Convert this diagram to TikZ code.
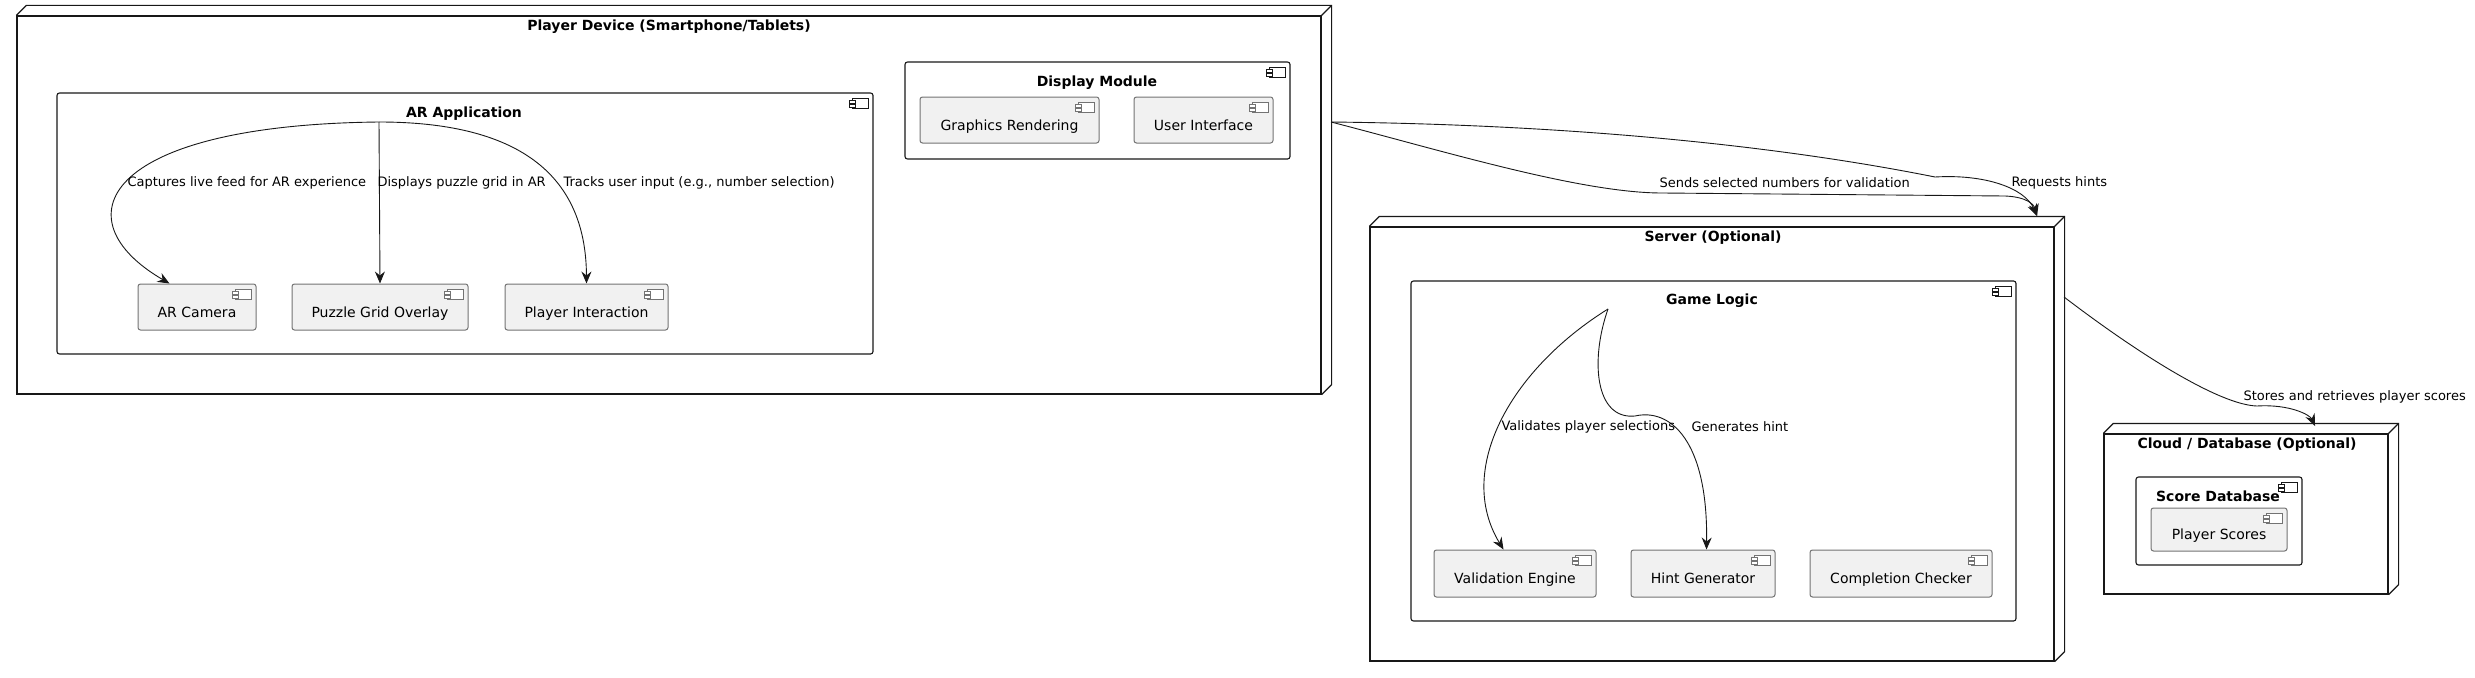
\documentclass[tikz,border=0pt]{standalone}
\usepackage{fontspec}
\setmainfont{DejaVu Sans}
\usetikzlibrary{arrows.meta,fit}
\definecolor{compfill}{HTML}{F1F1F1}
\definecolor{umlline}{HTML}{181818}

% small component icon in the top right corner of a box
\newcommand{\cicon}[2]{%
  \draw[#2,line width=0.8pt,fill=white] ([xshift=-21pt,yshift=-6pt]#1.north east) rectangle ++(16pt,-10pt);
  \draw[#2,line width=0.8pt,fill=white] ([xshift=-24pt,yshift=-8pt]#1.north east) rectangle ++(6pt,-2.5pt);
  \draw[#2,line width=0.8pt,fill=white] ([xshift=-24pt,yshift=-12pt]#1.north east) rectangle ++(6pt,-2.5pt);}
% top and side faces of a deployment node
\newcommand{\nodedepth}[1]{%
  \draw[umlline,line width=1.2pt] (#1.north west) -- ++(10pt,10pt)
    -- ([shift={(10pt,10pt)}]#1.north east) -- ([shift={(10pt,10pt)}]#1.south east)
    -- (#1.south east);
  \draw[umlline,line width=1.2pt] (#1.north east) -- ++(10pt,10pt);}

\begin{document}
\begin{tikzpicture}[x=1pt,y=-1pt,line width=1pt,
  lbl/.style={font=\fontsize{13}{15}\selectfont,anchor=west,inner sep=0pt},
  ttl/.style={font=\fontsize{14}{16}\selectfont\bfseries,inner sep=0pt},
  dev/.style={draw=umlline,line width=1.2pt,inner sep=0pt},
  cont/.style={draw=umlline,line width=1.1pt,rounded corners=2.5pt,inner sep=0pt},
  comp/.style={draw=black!55,fill=compfill,rounded corners=2.5pt,inner sep=0pt,
               font=\fontsize{14}{16}\selectfont,text height=20pt,text depth=0pt},
  flow/.style={draw=umlline,line width=0.9pt,-{Stealth[length=12pt,width=10pt,inset=4pt]}}]
  \useasboundingbox (0,0) rectangle (2475,677);

  % player device
  \node[dev,fit={(17,16) (1321,394)}] (pd) {};
  \nodedepth{pd}
  \node[ttl] (pdt) at (669,27) {Player Device (Smartphone/Tablets)};
  \node[cont,fit={(57,93) (873,354)}] (arapp) {};
  \cicon{arapp}{umlline}
  \node[ttl] (arappt) at (464,114) {AR Application};
  \node[comp,minimum width=118pt,minimum height=46pt] (arcam) at (197,307) {AR Camera};
  \cicon{arcam}{black!55}
  \node[comp,minimum width=176pt,minimum height=46pt] (grid) at (380,307) {Puzzle Grid Overlay};
  \cicon{grid}{black!55}
  \node[comp,minimum width=163pt,minimum height=46pt] (pinter) at (586.5,307) {Player Interaction};
  \cicon{pinter}{black!55}
  \node[cont,fit={(905,62) (1290,159)}] (disp) {};
  \cicon{disp}{umlline}
  \node[ttl] (dispt) at (1097,83) {Display Module};
  \node[comp,minimum width=179pt,minimum height=46pt] (gfx) at (1009.5,120) {Graphics Rendering};
  \cicon{gfx}{black!55}
  \node[comp,minimum width=139pt,minimum height=46pt] (ui) at (1203.5,120) {User Interface};
  \cicon{ui}{black!55}

  % server
  \node[dev,fit={(1370,227) (2054,661)}] (srv) {};
  \nodedepth{srv}
  \node[ttl] (srvt) at (1713,238) {Server (Optional)};
  \node[cont,fit={(1411,281) (2016,621)}] (logic) {};
  \cicon{logic}{umlline}
  \node[ttl] (logict) at (1712,301) {Game Logic};
  \node[comp,minimum width=162pt,minimum height=47pt] (valid) at (1515,573.5) {Validation Engine};
  \cicon{valid}{black!55}
  \node[comp,minimum width=144pt,minimum height=47pt] (hint) at (1703,573.5) {Hint Generator};
  \cicon{hint}{black!55}
  \node[comp,minimum width=182pt,minimum height=47pt] (check) at (1901,573.5) {Completion Checker};
  \cicon{check}{black!55}

  % cloud
  \node[dev,fit={(2104,434) (2388,594)}] (cloud) {};
  \nodedepth{cloud}
  \node[ttl] (cloudt) at (2247,445) {Cloud / Database (Optional)};
  \node[cont,fit={(2136,477) (2302,565)}] (scoredb) {};
  \cicon{scoredb}{umlline}
  \node[ttl] (scoredbt) at (2218,496) {Score Database};
  \node[comp,minimum width=136pt,minimum height=43pt] (scores) at (2219,529.5) {Player Scores};
  \cicon{scores}{black!55}

  \coordinate (arsrc) at (379,122);
  \coordinate (logicsrc) at (1608,309);
  \coordinate (pdout) at (1331,122);
  \coordinate (srvin) at (2037,216);
  \coordinate (srvout) at (2064,297);
  \coordinate (cloudin) at (2315,426);

  \draw[flow] (arsrc) .. controls (100,125) and (60,220) .. ([xshift=32pt]arcam.north west);
  \draw[flow] (arsrc) -- (grid.north);
  \draw[flow] (arsrc) .. controls (515,122) and (586,172) .. (pinter.north);
  \node[lbl] (l1) at (127,183) {Captures live feed for AR experience};
  \node[lbl] (l2) at (377,183) {Displays puzzle grid in AR};
  \node[lbl] (l3) at (563,183) {Tracks user input (e.g., number selection)};

  \draw[flow] (pdout) .. controls (1440,150) and (1580,193) .. (1662,193) -- (2005,196)
    .. controls (2028,197) and (2034,205) .. (srvin);
  \draw[flow] (pdout) .. controls (1600,125) and (1800,150) .. (1935,177)
    .. controls (1985,174) and (2025,188) .. (srvin);
  \node[lbl] (l4) at (1659,183) {Sends selected numbers for validation};
  \node[lbl] (l5) at (2011,183) {Requests hints};

  \draw[flow] (logicsrc) .. controls (1510,370) and (1455,470) .. ([xshift=70pt]valid.north west);
  \draw[flow] (logicsrc) .. controls (1590,360) and (1595,420) .. (1635,416)
    .. controls (1670,408) and (1708,440) .. ([xshift=76pt]hint.north west);
  \node[lbl] (l6) at (1501,427) {Validates player selections};
  \node[lbl] (l7) at (1691,427) {Generates hint};

  \draw[flow] (srvout) .. controls (2140,355) and (2220,405) .. (2257,406)
    .. controls (2290,404) and (2310,415) .. (cloudin);
  \node[lbl] (l8) at (2243,397) {Stores and retrieves player scores};
\end{tikzpicture}
\end{document}
